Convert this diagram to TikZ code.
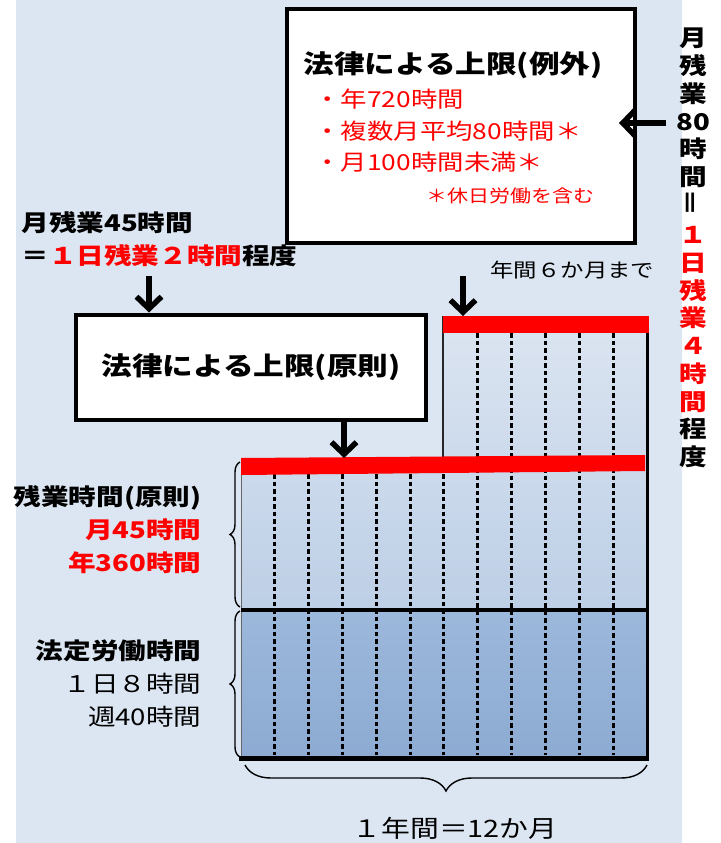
\documentclass[tikz,border=0pt]{standalone}
\usepackage{fontspec}
\setmainfont{Noto Sans CJK JP}[FakeStretch=1.2]
\usepackage{tikz}
\usetikzlibrary{arrows.meta, positioning, calc, decorations.pathreplacing}
\definecolor{PanelBlue}{HTML}{DCE6F2}
\definecolor{OverTop}{HTML}{DCE5F1}
\definecolor{OverBot}{HTML}{BDCFE6}
\definecolor{LegalTop}{HTML}{9CB8DB}
\definecolor{LegalBot}{HTML}{8DAAD2}
\definecolor{LimitRed}{HTML}{FF0000}

\begin{document}
\begin{tikzpicture}[
    x=1pt, y=-1pt,
    box/.style={rectangle, draw=black, line width=4pt, fill=white},
    titlefont/.style={font=\fontsize{25.5}{30}\selectfont\bfseries},
    jpbold/.style={font=\fontsize{23}{33}\selectfont\bfseries},
    jpplain/.style={font=\fontsize{23}{33}\selectfont},
    listfont/.style={font=\fontsize{22}{30}\selectfont, text=LimitRed},
    coltext/.style={font=\fontsize{23}{27.7}\selectfont\bfseries, align=center},
    arrowdown/.style={line width=5.5pt, -{Straight Barb[length=12pt,width=25pt]}},
    monthline/.style={line width=3pt, dash pattern=on 4.5pt off 3pt},
    curly/.style={decorate, decoration={brace, amplitude=10pt}, line width=1.4pt}
]
    \useasboundingbox (0,0) rectangle (720,843);
    \fill[white] (0,0) rectangle (720,843);
    \fill[PanelBlue] (16,0) rectangle (682,843);

    % Overtime and legal hours
    \shade[top color=OverTop, bottom color=OverBot]
        (241,458) -- (443,458) -- (443,316) -- (647,316) -- (647,610) -- (241,610) -- cycle;
    \shade[top color=LegalTop, bottom color=LegalBot] (241,610) rectangle (647,758);

    % Months
    \foreach \i in {1,...,11}{
        \pgfmathsetmacro{\xm}{241+\i*33.83}
        \ifnum\i<7 \def\ytop{474}\else\def\ytop{333}\fi
        \draw[monthline] (\xm,\ytop) -- (\xm,755);
    }
    \draw[line width=1pt, black!60] (241,458) -- (241,758);
    \draw[line width=2.5pt, black!85] (443,458) -- (443,316);
    \draw[line width=3pt] (647,316) -- (647,758);
    \draw[line width=4pt] (241,610) -- (647,610);
    \draw[line width=5pt] (239,758) -- (649,758);

    % Caps
    \fill[LimitRed] (443,316) rectangle (649,333);
    \fill[LimitRed] (241,458) -- (645,455) -- (645,471) -- (241,475) -- cycle;
    \coordinate (cap6) at (463,316);
    \coordinate (cap45) at (344,458);

    % Exception box
    \node[box, minimum width=348pt, minimum height=234pt] (except) at (461,126) {};
    \node[titlefont] (extitle) at (453,65) {法律による上限(例外)};
    \node[listfont, anchor=west] (ex1) at (311,99) {・年720時間};
    \node[listfont, anchor=west] (ex2) at (311,131) {・複数月平均80時間＊};
    \node[listfont, anchor=west] (ex3) at (311,162) {・月100時間未満＊};
    \node[font=\fontsize{17.5}{20}\selectfont, text=LimitRed, anchor=east] (exnote) at (598,196) {＊休日労働を含む};

    % Principle box
    \node[box, titlefont, minimum width=350pt, minimum height=105pt] (principle) at (251,367) {法律による上限(原則)};

    % Monthly 45 hours
    \node[jpbold, anchor=west] (m45) at (18,223) {月残業45時間};
    \node[jpbold, anchor=west] (d2) at (18,256) {＝\textcolor{LimitRed}{１日残業２時間}程度};
    \coordinate (a45) at (149,276);
    \draw[arrowdown] (a45) -- (a45 |- principle.north);
    \draw[arrowdown] (principle.south -| cap45) -- (cap45);

    % Six months
    \node[font=\fontsize{19.5}{22}\selectfont, anchor=west] (six) at (487,270) {年間６か月まで};
    \coordinate (a6) at (463,276);
    \draw[arrowdown] (a6) -- (cap6);

    % Monthly 80 hours
    \node[coltext] (m80) at (693,248) {月\\残\\業\\80\\時\\間\\\rotatebox{90}{＝}\\
        \textcolor{LimitRed}{１}\\\textcolor{LimitRed}{日}\\\textcolor{LimitRed}{残}\\
        \textcolor{LimitRed}{業}\\\textcolor{LimitRed}{４}\\\textcolor{LimitRed}{時}\\
        \textcolor{LimitRed}{間}\\程\\度};
    \coordinate (a80) at (666,123);
    \coordinate (tip80) at (619,123);
    \draw[arrowdown] (a80) -- (tip80);

    % Left labels
    \node[jpbold, anchor=east, align=right] (otlabel) at (205,530)
        {残業時間(原則)\\\textcolor{LimitRed}{月45時間}\\\textcolor{LimitRed}{年360時間}};
    \node[jpplain, anchor=east, align=right] (lglabel) at (205,684)
        {\textbf{法定労働時間}\\１日８時間\\週40時間};
    \draw[curly] (240,607) -- (240,462);
    \draw[curly] (240,757) -- (240,611);

    % One year
    \draw[curly, decoration={brace, amplitude=26pt}] (647,765) -- (245,765);
    \node[font=\fontsize{24}{30}\selectfont] (year) at (455,828) {１年間＝12か月};
\end{tikzpicture}
\end{document}
